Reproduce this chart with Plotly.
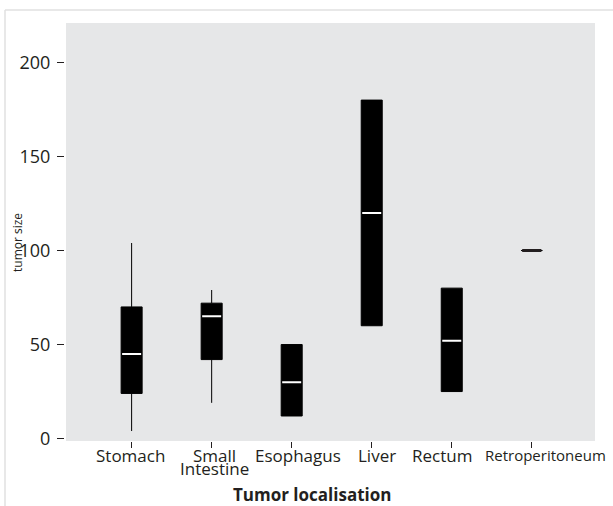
import plotly.graph_objects as go

# ---- data ----
categories = ["Stomach", "Small Intestine", "Esophagus", "Liver", "Rectum", "Retroperitoneum"]
label_lines = [["Stomach"], ["Small", "Intestine"], ["Esophagus"], ["Liver"], ["Rectum"], ["Retroperitoneum"]]
q1 = [24, 42, 12, 60, 25, 100]
median = [45, 65, 30, 120, 52, 100]
q3 = [70, 72, 50, 180, 80, 100]
lower_whisker = [4, 19, 12, 60, 25, 100]
upper_whisker = [104, 79, 50, 180, 80, 100]
y_ticks = [0, 50, 100, 150, 200]

# ---- layout geometry (pixels) ----
W, H = 613, 506
ML, MR, MT, MB = 60, 18, 23, 65
PW, PH = W - ML - MR, H - MT - MB
def pxx(px):
    return (px - ML) / PW
def pxy(py):
    return (H - MB - py) / PH

ink = "#231f20"
font_family = "Open Sans, sans-serif"
pos = list(range(len(categories)))

fig = go.Figure()

# black boxes
fig.add_trace(go.Box(
    x=pos, q1=q1, median=median, q3=q3,
    lowerfence=lower_whisker, upperfence=upper_whisker,
    width=0.2625, whiskerwidth=0,
    fillcolor="black", line=dict(color="black", width=1),
    boxpoints=False, showlegend=False, hoverinfo="skip",
))

# white median marks (all categories with a real box)
n_box = 5
fig.add_trace(go.Box(
    x=pos[:n_box], q1=median[:n_box], median=median[:n_box], q3=median[:n_box],
    lowerfence=median[:n_box], upperfence=median[:n_box],
    width=0.2375, whiskerwidth=0,
    fillcolor="white", line=dict(color="white", width=2),
    boxpoints=False, showlegend=False, hoverinfo="skip",
))

# single-value category drawn as a thick dark bar
fig.add_trace(go.Box(
    x=pos[n_box:], q1=median[n_box:], median=median[n_box:], q3=median[n_box:],
    lowerfence=median[n_box:], upperfence=median[n_box:],
    width=0.24, whiskerwidth=0,
    fillcolor=ink, line=dict(color=ink, width=3),
    boxpoints=False, showlegend=False, hoverinfo="skip",
))

# category labels (offsets in pixels as in the reference)
label_xshift = [-1, 3, 6, 5, -10, -49]
label_anchor = ["center", "center", "center", "center", "center", "left"]
label_size = [17, 17, 17, 17, 17, 15]
annotations = []
for i, lines in enumerate(label_lines):
    for j, line in enumerate(lines):
        annotations.append(dict(
            x=pos[i], xref="x", y=pxy(455 + 14 * j), yref="paper",
            text=line, showarrow=False, xanchor=label_anchor[i], yanchor="middle",
            xshift=label_xshift[i], font=dict(family=font_family, size=label_size[i], color=ink),
        ))

annotations.append(dict(
    x=pxx(312), xref="paper", y=pxy(494), yref="paper",
    text="<b>Tumor localisation</b>", showarrow=False, xanchor="center", yanchor="middle",
    font=dict(family=font_family, size=17, color=ink),
))
annotations.append(dict(
    x=pxx(17), xref="paper", y=pxy(243), yref="paper",
    text="tumor size", textangle=-90, showarrow=False, xanchor="center", yanchor="middle",
    font=dict(family=font_family, size=12, color=ink),
))

shapes = [
    dict(type="line", xref="paper", yref="paper", x0=pxx(5), x1=pxx(W + 5), y0=pxy(10), y1=pxy(10),
         line=dict(color="#e0e0e0", width=1.5)),
    dict(type="line", xref="paper", yref="paper", x0=pxx(5), x1=pxx(5), y0=pxy(10), y1=pxy(H + 5),
         line=dict(color="#e0e0e0", width=1.5)),
]

fig.update_layout(
    width=W, height=H,
    margin=dict(l=ML, r=MR, t=MT, b=MB, pad=0),
    paper_bgcolor="white", plot_bgcolor="#e6e7e8",
    boxmode="overlay",
    font=dict(family=font_family, color=ink),
    annotations=annotations, shapes=shapes,
    xaxis=dict(
        domain=[pxx(66), 1], range=[-0.82, 5.79],
        tickvals=pos, showticklabels=False,
        ticks="outside", ticklen=6, tickwidth=1, tickcolor=ink,
        showgrid=False, zeroline=False, showline=False,
    ),
    yaxis=dict(
        range=[-1.3, 221], tickvals=y_ticks,
        anchor="free", position=pxx(64),
        ticks="outside", ticklen=7, tickwidth=1.2, tickcolor=ink,
        tickfont=dict(family=font_family, size=18, color=ink),
        ticklabelstandoff=3,
        showgrid=False, zeroline=False, showline=False,
    ),
)

fig.write_html(
    "out.html",
    config={"displayModeBar": False, "staticPlot": True},
    post_script="document.body.style.margin='0';document.body.style.overflow='hidden';",
)
